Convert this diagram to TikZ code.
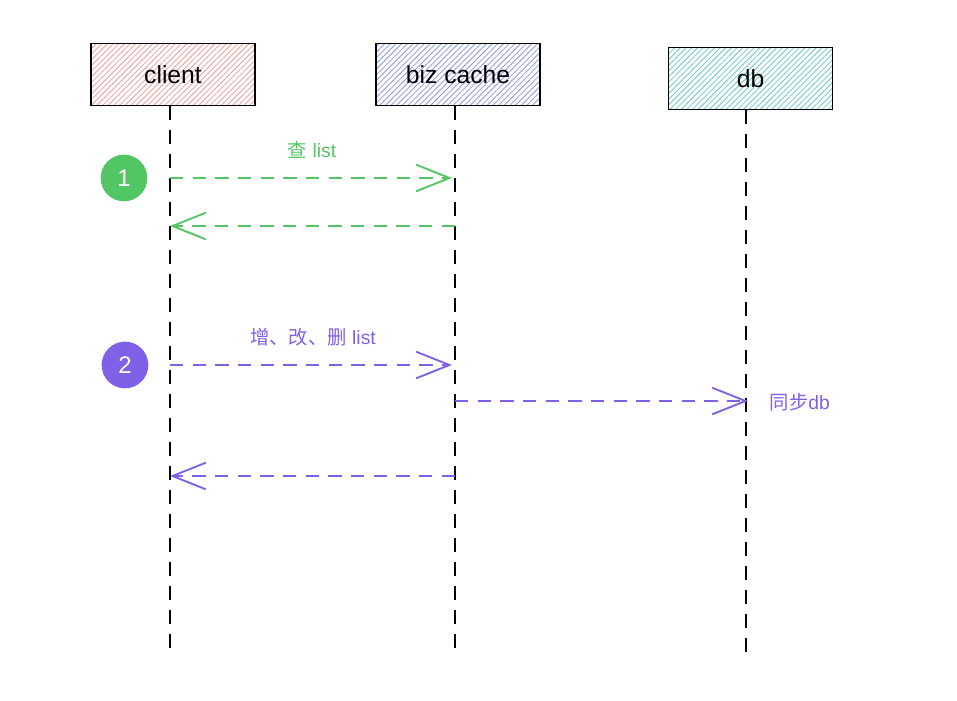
\documentclass[tikz,border=0pt]{standalone}
\usepackage{fontspec}
\setmainfont{Liberation Sans}
\newfontfamily\cjk{Noto Sans CJK SC}
\usetikzlibrary{arrows.meta,patterns.meta}
\definecolor{hatchred}{HTML}{EE9C9C}
\definecolor{hatchblue}{HTML}{8C96DE}
\definecolor{hatchteal}{HTML}{6CC6C6}
\definecolor{grn}{HTML}{52C565}
\definecolor{pur}{HTML}{7F60E6}
\begin{document}
\begin{tikzpicture}[x=0.75pt,y=-0.75pt,
  actor/.style={draw=black,line width=0.8pt,minimum width=123pt,minimum height=47pt,inner sep=0pt,font=\fontsize{18.5}{22}\selectfont},
  hatch/.style={pattern={Lines[angle=45,distance=3pt,line width=0.6pt]},pattern color=#1},
  lifeline/.style={line width=1.5pt,dash pattern=on 10.5pt off 7.5pt},
  msg/.style={line width=1.4pt,dash pattern=on 10pt off 7pt,-{Straight Barb[length=25pt,width=20pt,line width=1.4pt]}},
  badge/.style={circle,minimum size=35pt,inner sep=0pt,text=white,font=\fontsize{18}{20}\selectfont},
  lbl/.style={font=\fontsize{14.5}{17}\selectfont}]
\useasboundingbox (0,0) rectangle (957,700);
% actors
\node[actor,hatch=hatchred] (client) at (173,74.5) {};
\node[actor] at (173,74.5) {client};
\node[actor,hatch=hatchblue] (biz) at (458,74.5) {};
\node[actor] at (458,74.5) {biz cache};
\node[actor,hatch=hatchteal] (db) at (750.5,78.5) {};
\node[actor] at (750.5,78.5) {db};
% lifelines
\coordinate (cTop) at (170,106);
\coordinate (bTop) at (455,106);
\coordinate (dTop) at (746,110);
\coordinate (cEnd) at (170,652);
\coordinate (bEnd) at (455,652);
\coordinate (dEnd) at (746,658);
\draw[lifeline] (cTop) -- (cEnd);
\draw[lifeline] (bTop) -- (bEnd);
\draw[lifeline] (dTop) -- (dEnd);
% message points
\coordinate (c1) at (170,178); \coordinate (b1) at (452,178);
\coordinate (b2) at (455,226); \coordinate (c2) at (170,226);
\coordinate (c3) at (170,365); \coordinate (b3) at (452,365);
\coordinate (b4) at (455,401); \coordinate (d4) at (748,401);
\coordinate (b5) at (455,476); \coordinate (c5) at (170,476);
% badges
\node[badge,fill=grn] (n1) at (124,178) {1};
\node[badge,fill=pur] (n2) at (125,365) {2};
% messages
\draw[msg,grn] (c1) -- (b1);
\node[lbl,text=grn] (l1) at (312,150) {{\cjk 查} list};
\draw[msg,grn] (b2) -- (c2);
\draw[msg,pur] (c3) -- (b3);
\node[lbl,text=pur] (l3) at (313,337) {{\cjk 增、改、删} list};
\draw[msg,pur] (b4) -- (d4);
\node[lbl,text=pur,anchor=west] (l4) at (765,402) {{\cjk 同步}db};
\draw[msg,pur] (b5) -- (c5);
\end{tikzpicture}
\end{document}
